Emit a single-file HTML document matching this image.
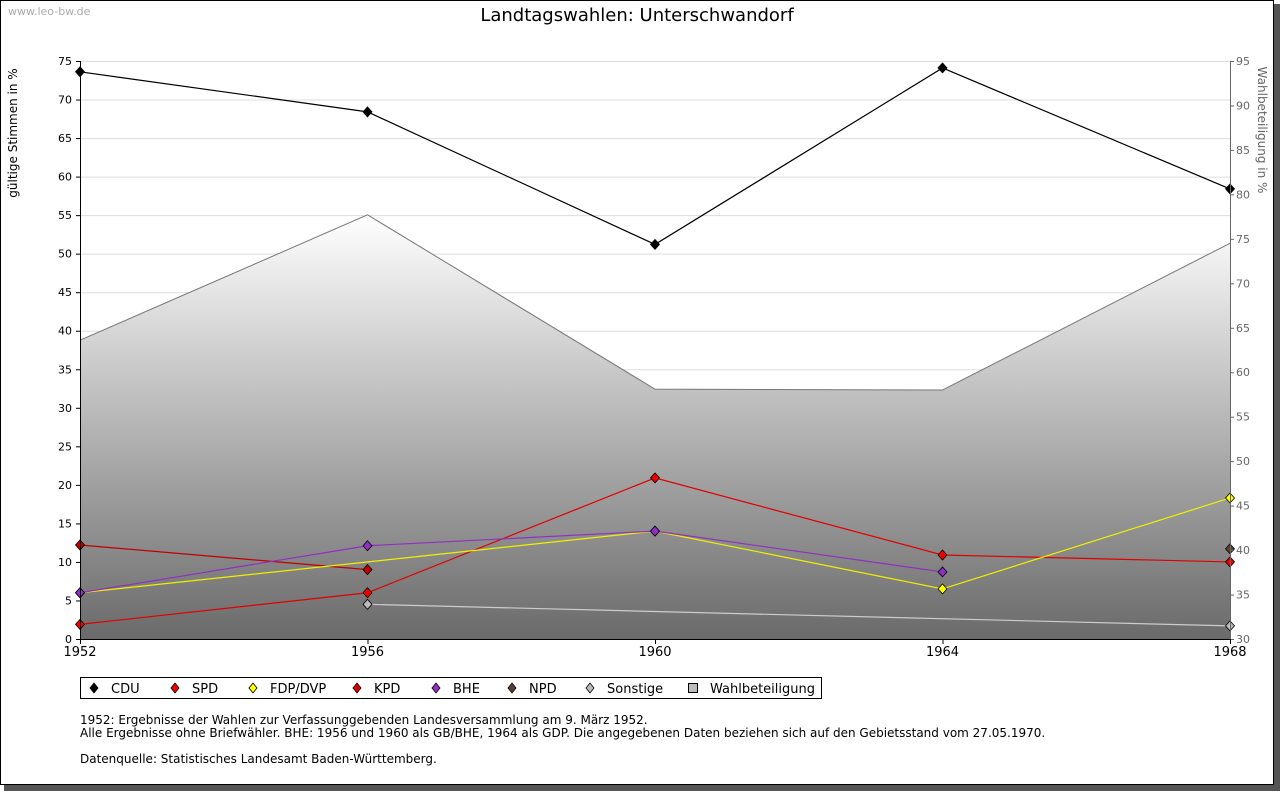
<!DOCTYPE html>
<html><head><meta charset="utf-8"><style>
body{margin:0;background:#fff;font-family:"Liberation Sans","DejaVu Sans",sans-serif;}
svg text{font-family:"DejaVu Sans","Liberation Sans",sans-serif;}
</style></head><body>
<svg id="c" width="1280" height="791" xmlns="http://www.w3.org/2000/svg">
<defs>
<linearGradient id="ag" x1="0" y1="215" x2="0" y2="639" gradientUnits="userSpaceOnUse">
<stop offset="0" stop-color="#ffffff"/><stop offset="1" stop-color="#6a6a6a"/></linearGradient>
</defs>
<rect x="4" y="4" width="1276" height="787" fill="#555"/>
<rect x="0.5" y="0.5" width="1273" height="784" fill="#fff" stroke="#000"/>
<text x="8" y="15" font-size="11" fill="#aaa">www.leo-bw.de</text>
<text x="637" y="21" font-size="18" text-anchor="middle">Landtagswahlen: Unterschwandorf</text>
<g id="grid"></g><g id="area"></g><g id="lines"></g><g id="axes"></g>
<text transform="translate(17,133) rotate(-90)" font-size="12" text-anchor="middle">gültige Stimmen in %</text>
<text transform="translate(1258,130) rotate(90)" font-size="12" fill="#666" text-anchor="middle">Wahlbeteiligung in %</text>
<rect x="80.5" y="677.5" width="741" height="21" fill="#fff" stroke="#000"/>
<g id="legend"></g>
<text font-size="12">
<tspan x="80" y="724">1952: Ergebnisse der Wahlen zur Verfassunggebenden Landesversammlung am 9. März 1952.</tspan>
<tspan x="80" y="737">Alle Ergebnisse ohne Briefwähler. BHE: 1956 und 1960 als GB/BHE, 1964 als GDP. Die angegebenen Daten beziehen sich auf den Gebietsstand vom 27.05.1970.</tspan>
<tspan x="80" y="763">Datenquelle: Statistisches Landesamt Baden-Württemberg.</tspan>
</text>
</svg>
<script>
const years=[1952,1956,1960,1964,1968];
const cdu=[73.6,68.4,51.2,74.1,58.4];
const spd=[1.9,6.0,20.9,10.9,10.0];
const fdp=[6.0,null,14.0,6.5,18.3];
const kpd=[12.2,9.0,null,null,null];
const bhe=[6.0,12.1,14.0,8.7,null];
const npd=[null,null,null,null,11.7];
const sonst=[null,4.5,null,null,1.7];
const turnout=[63.6,77.7,58.1,58.0,74.5];
const leftTicks=[0,5,10,15,20,25,30,35,40,45,50,55,60,65,70,75];
const rightTicks=[30,35,40,45,50,55,60,65,70,75,80,85,90,95];
const NS='http://www.w3.org/2000/svg';
const X=y=>80+(y-1952)/16*1150;
const Y=v=>639-v/75*578;
const Y2=v=>639-(v-30)/65*578;
function mk(t,a,p){const e=document.createElementNS(NS,t);for(const k in a)e.setAttribute(k,a[k]);p.appendChild(e);return e;}
const grid=document.getElementById('grid'),axes=document.getElementById('axes');
leftTicks.forEach(v=>{
 if(v>0){const l=mk('line',{x1:80,x2:1230,y1:Y(v)+.5,y2:Y(v)+.5,stroke:'#ddd'},grid);
 
 }
 mk('line',{x1:76,x2:80,y1:Y(v)+.5,y2:Y(v)+.5,stroke:'#000'},axes);
 const t=mk('text',{x:72,y:Y(v)+4,'font-size':11,'text-anchor':'end'},axes);t.textContent=v;
 
 
});
rightTicks.forEach(v=>{
 mk('line',{x1:1230,x2:1234,y1:Y2(v)+.5,y2:Y2(v)+.5,stroke:'#666'},axes);
 const t=mk('text',{x:1236,y:Y2(v)+4,'font-size':11,fill:'#666'},axes);t.textContent=v;
 
 
});
// area
const area=document.getElementById('area');
let d='M'+X(years[0])+','+639;
years.forEach((y,i)=>d+=' L'+X(y)+','+Y2(turnout[i]));
d+=' L'+X(years[4])+',639 Z';
const ap=mk('path',{d:d,fill:'url(#ag)'},area);


const al=mk('polyline',{points:years.map((y,i)=>X(y)+','+Y2(turnout[i])).join(' '),fill:'none',stroke:'#777'},area);


// axes lines
mk('line',{x1:80.5,x2:80.5,y1:61,y2:640,stroke:'#000'},axes);
mk('line',{x1:1230.5,x2:1230.5,y1:61,y2:640,stroke:'#666'},axes);
mk('line',{x1:80,x2:1231,y1:639.5,y2:639.5,stroke:'#000'},axes);
years.forEach(y=>{
 mk('line',{x1:X(y)+.5,x2:X(y)+.5,y1:639,y2:644,stroke:'#000'},axes);
 const t=mk('text',{x:X(y),y:656,'font-size':13,'text-anchor':'middle'},axes);t.textContent=y;
 
 
});
const series=[['cdu',cdu,'#000','#000'],['sonstige',sonst,'#ccc','#bbb'],['npd',npd,'#5a4030','#5a4030'],['kpd',kpd,'#c00000','#c00000'],['spd',spd,'#e00000','#f00000'],['fdp',fdp,'#f0f000','#ffff00'],['bhe',bhe,'#9030c0','#9030c0']];
const lines=document.getElementById('lines');
series.forEach(([n,vals,lc,fc])=>{
 const pts=[];vals.forEach((v,i)=>{if(v!==null)pts.push([X(years[i]),Y(v)]);});
 const g=mk('g',{},lines);
 
 
 if(pts.length>1){mk('polyline',{points:pts.map(p=>p.join(',')).join(' '),fill:'none',stroke:lc,'stroke-width':1.2},g);}
 pts.forEach(p=>{
  const m=mk('path',{d:`M${p[0]},${p[1]-5} L${p[0]+4.5},${p[1]} L${p[0]},${p[1]+5} L${p[0]-4.5},${p[1]} Z`,fill:fc,stroke:'#000','stroke-width':.8},g);
  
  
 });
});
const leg=[['CDU','#000',90],['SPD','#f00000',171],['FDP/DVP','#ffff00',249],['KPD','#e00000',353],['BHE','#9030c0',432],['NPD','#5a4030',508],['Sonstige','#bbb',586]];
const lg=document.getElementById('legend');
leg.forEach(([n,c,x])=>{
 const m=mk('path',{d:`M${x+4},683 L${x+8},688 L${x+4},693 L${x},688 Z`,fill:c,stroke:'#000','stroke-width':.8},lg);
 
 
 const t=mk('text',{x:x+21,y:693,'font-size':13},lg);t.textContent=n;
 
 
});
const r=mk('rect',{x:688.5,y:683.5,width:9,height:9,fill:'#bbb',stroke:'#000'},lg);


const tw=mk('text',{x:710,y:693,'font-size':13},lg);tw.textContent='Wahlbeteiligung';


</script>
</body></html>
